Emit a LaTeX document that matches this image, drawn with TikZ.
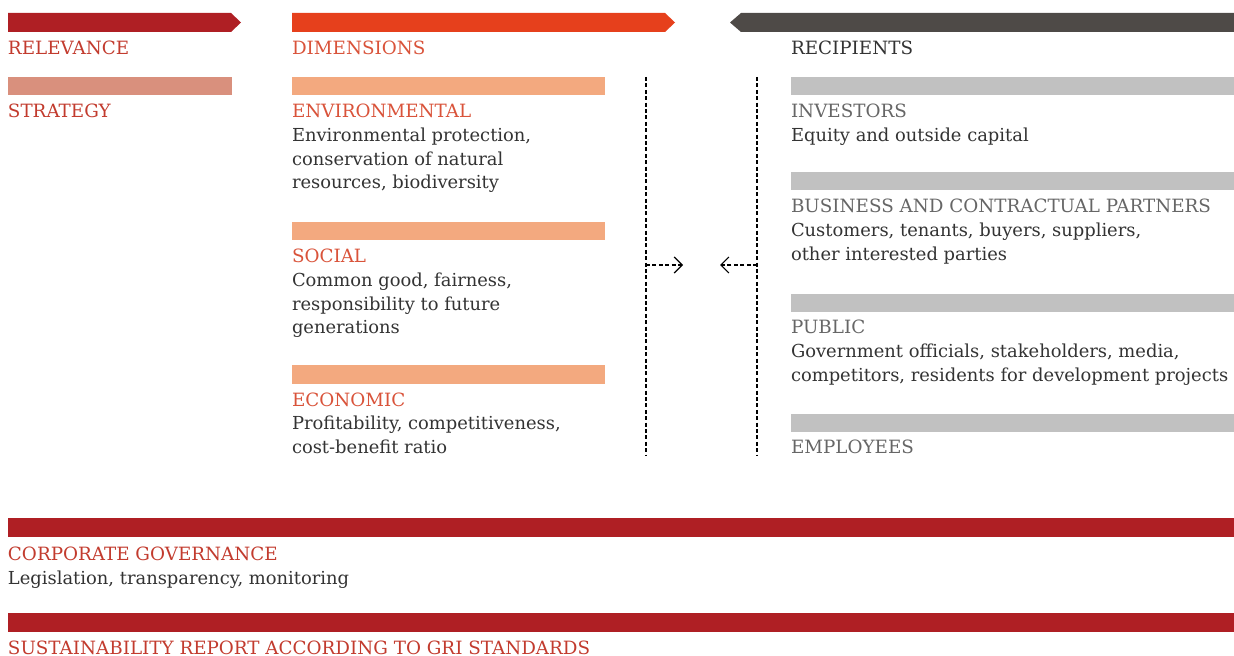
\documentclass[tikz,border=0pt]{standalone}
\usepackage{fontspec}
\setmainfont{DejaVu Serif}
\usetikzlibrary{arrows.meta}
\definecolor{barred}{HTML}{AF1F24}
\definecolor{headred}{HTML}{C23B2E}
\definecolor{headorange}{HTML}{D9533A}
\definecolor{stratbar}{HTML}{D9907D}
\definecolor{dimarrow}{HTML}{E6401C}
\definecolor{dimbar}{HTML}{F3A97F}
\definecolor{recarrow}{HTML}{4E4A47}
\definecolor{recbar}{HTML}{C1C1C1}
\definecolor{bodytext}{HTML}{333333}
\definecolor{graytext}{HTML}{666666}
\begin{document}
\begin{tikzpicture}[x=0.5pt,y=-0.5pt,
  txt/.style={anchor=base west,inner sep=0pt,outer sep=0pt,align=left,
    font=\fontsize{8.95pt}{11.75pt}\selectfont,text=bodytext},
  head/.style={txt,font=\fontsize{9.15pt}{11.75pt}\selectfont},
  hred/.style={head,text=headred},
  horange/.style={head,text=headorange},
  hgray/.style={head,text=graytext},
  sep/.style={draw=black,line width=0.6pt,dash pattern=on 2pt off 1.2pt},
  flow/.style={sep,-{Straight Barb[length=4pt,width=8pt,line width=0.6pt]}}]
\useasboundingbox (0,0) rectangle (1234,656);
% top arrows
\fill[barred] (8,13) -- (231,13) -- (241,22.5) -- (231,32) -- (8,32) -- cycle;
\fill[dimarrow] (292,13) -- (665,13) -- (675,22.5) -- (665,32) -- (292,32) -- cycle;
\fill[recarrow] (1234,13) -- (741,13) -- (730,22.5) -- (741,32) -- (1234,32) -- cycle;
\node[hred] (relevance) at (8,55) {RELEVANCE};
\node[horange] (dimensions) at (292,55) {DIMENSIONS};
\node[head] (recipients) at (791,55) {RECIPIENTS};
% bars
\fill[stratbar] (8,77) rectangle (232,95);
\fill[dimbar] (292,77) rectangle (605,95);
\fill[dimbar] (292,222) rectangle (605,240);
\fill[dimbar] (292,365) rectangle (605,384);
\fill[recbar] (791,77) rectangle (1234,95);
\fill[recbar] (791,172) rectangle (1234,190);
\fill[recbar] (791,294) rectangle (1234,312);
\fill[recbar] (791,414) rectangle (1234,432);
\fill[barred] (8,518) rectangle (1234,537);
\fill[barred] (8,613) rectangle (1234,632);
% texts (multi-line nodes: base anchor is the last line's baseline)
\node[hred] (strategy) at (8,118) {STRATEGY};
\node[horange] (env) at (292,118) {ENVIRONMENTAL};
\node[txt] (envt) at (292,189) {Environmental protection,\\conservation of natural\\resources, biodiversity};
\node[horange] (soc) at (292,263) {SOCIAL};
\node[txt] (soct) at (292,334) {Common good, fairness,\\responsibility to future\\generations};
\node[horange] (eco) at (292,407) {ECONOMIC};
\node[txt] (ecot) at (292,453.5) {Profitability, competitiveness,\\cost-benefit ratio};
\node[hgray] (inv) at (791,118) {INVESTORS};
\node[txt] (invt) at (791,142) {Equity and outside capital};
\node[hgray] (bus) at (791,213) {BUSINESS AND CONTRACTUAL PARTNERS};
\node[txt] (bust) at (791,260.5) {Customers, tenants, buyers, suppliers,\\other interested parties};
\node[hgray] (pub) at (791,334) {PUBLIC};
\node[txt] (pubt) at (791,381.5) {Government officials, stakeholders, media,\\competitors, residents for development projects};
\node[hgray] (emp) at (791,454) {EMPLOYEES};
\node[hred] (cg) at (8,560) {CORPORATE GOVERNANCE};
\node[txt] (cgt) at (8,584) {Legislation, transparency, monitoring};
\node[hred] (sr) at (8,654) {SUSTAINABILITY REPORT ACCORDING TO GRI STANDARDS};
% separators and flows
\coordinate (l1) at (646,77); \coordinate (l2) at (646,456);
\coordinate (r1) at (757,77); \coordinate (r2) at (757,456);
\coordinate (lm) at (646,265); \coordinate (la) at (683,265);
\coordinate (rm) at (757,265); \coordinate (ra) at (720,265);
\draw[sep] (l1) -- (l2);
\draw[sep] (r1) -- (r2);
\draw[flow] (lm) -- (la);
\draw[flow] (rm) -- (ra);
\end{tikzpicture}
\end{document}
